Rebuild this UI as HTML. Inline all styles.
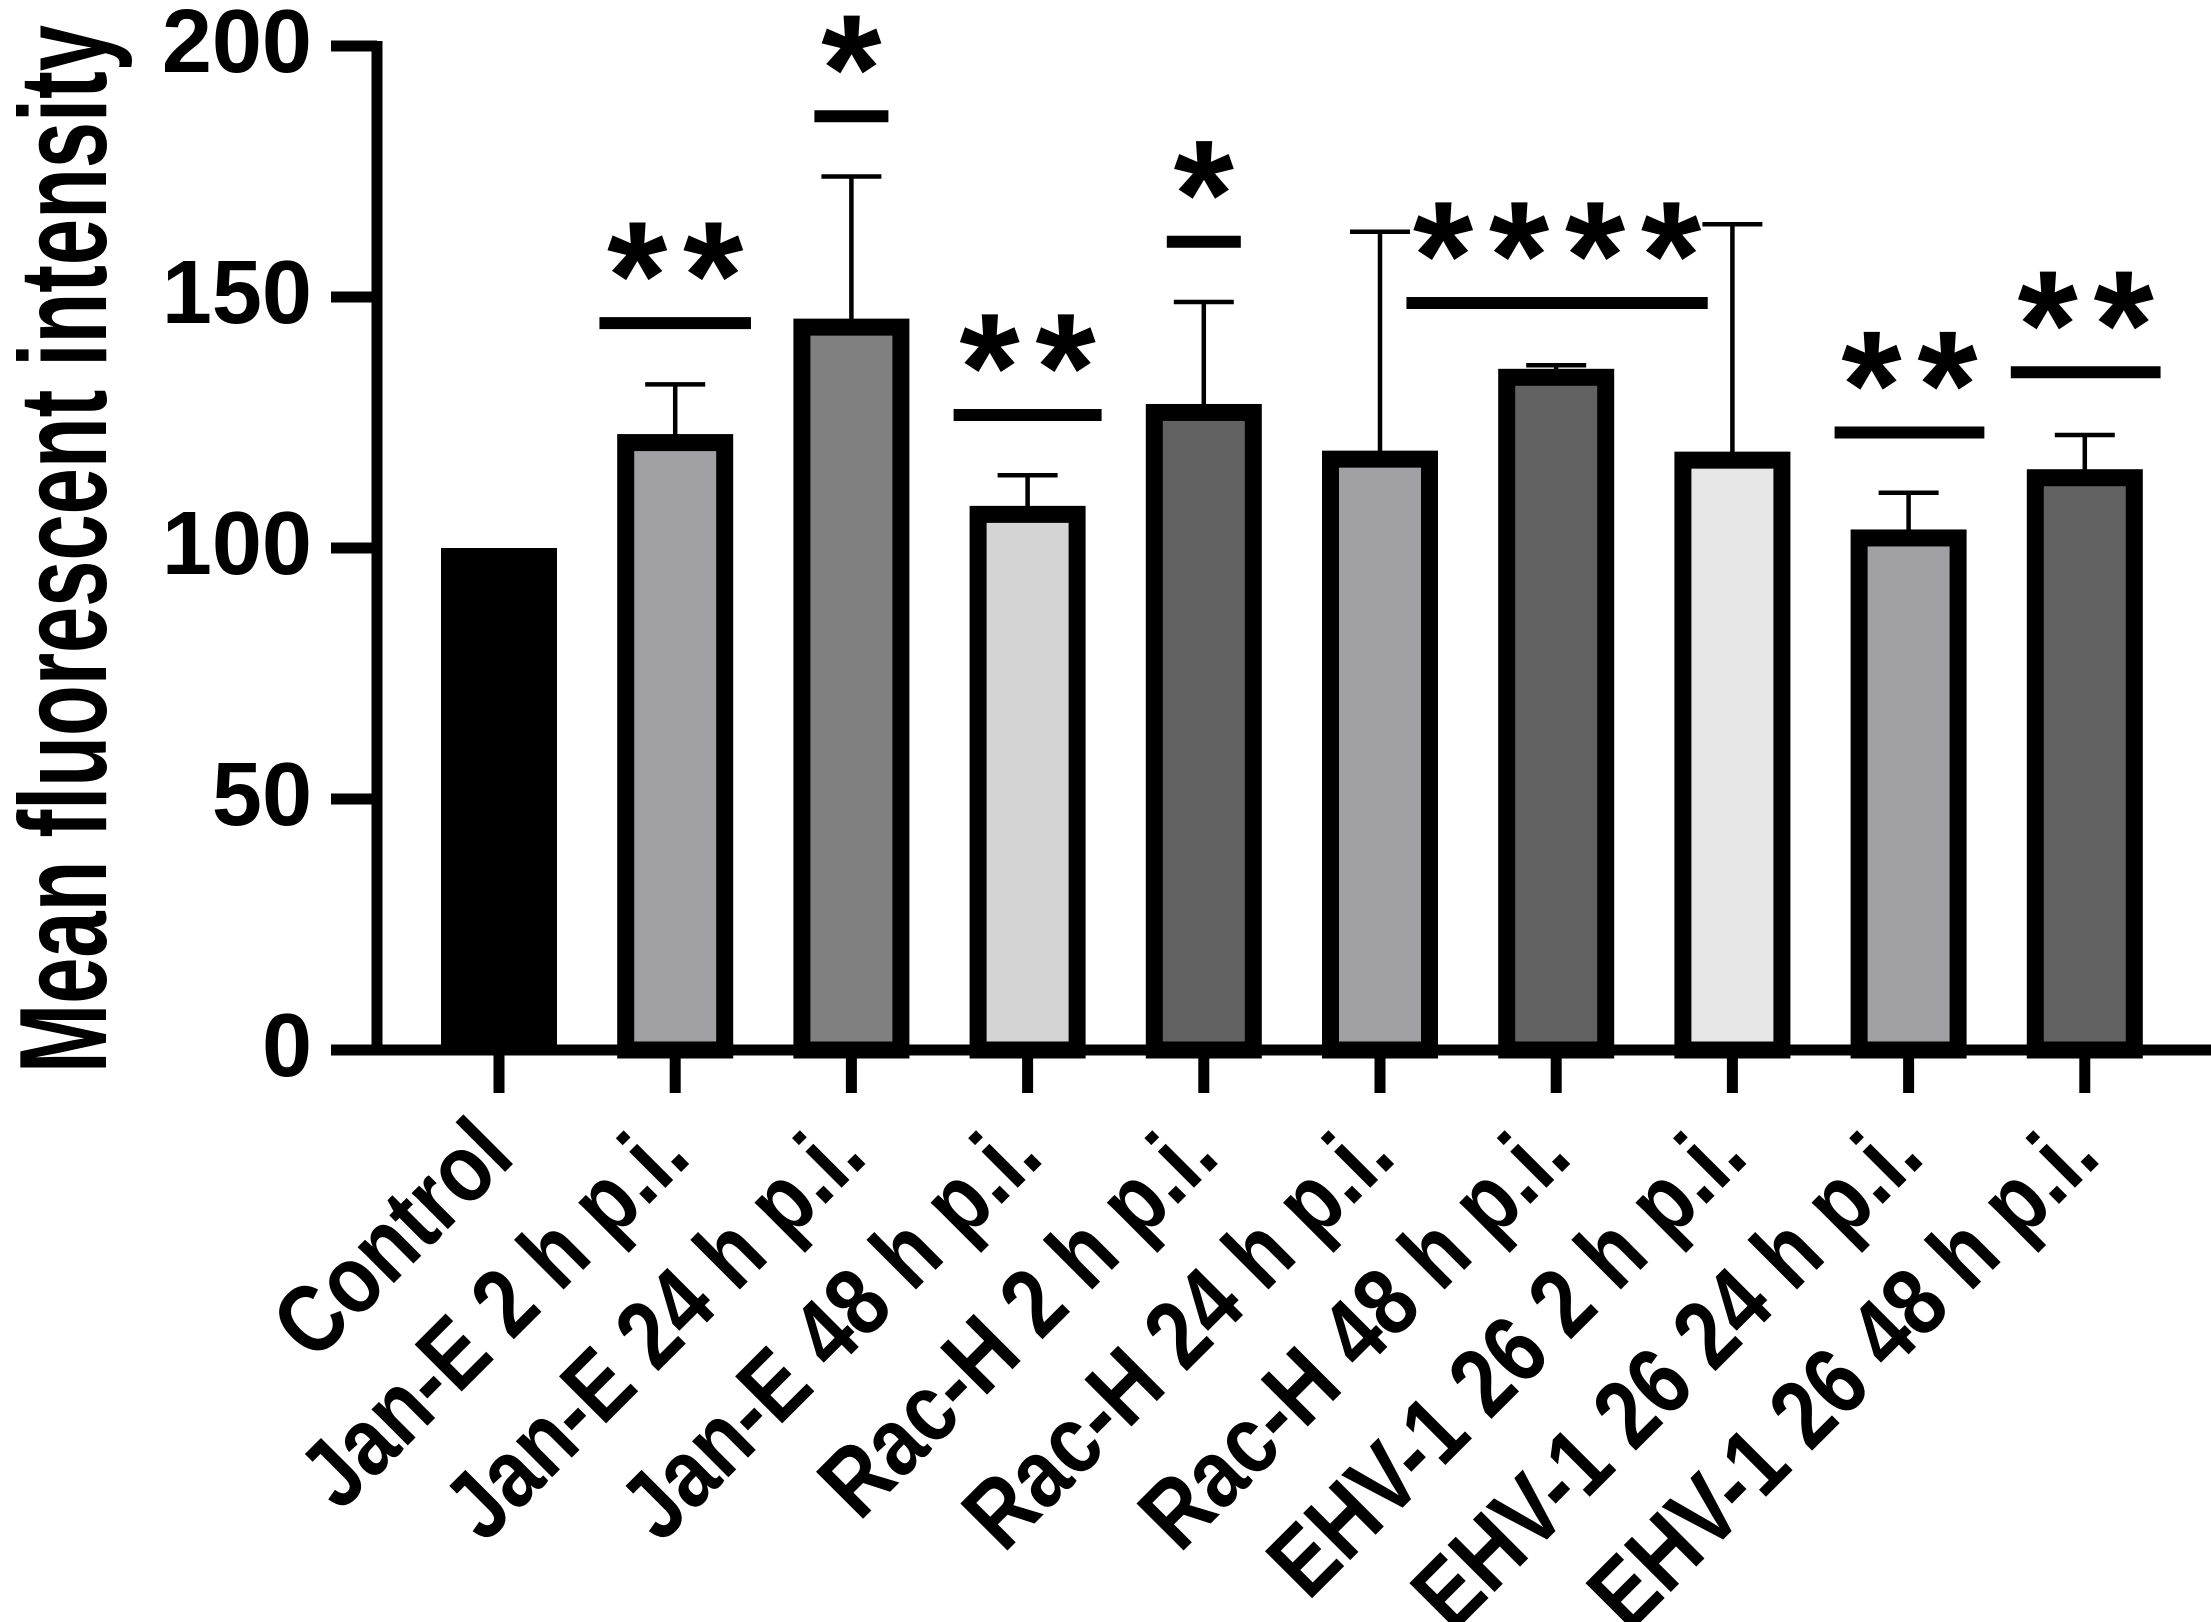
<!DOCTYPE html>
<html><head><meta charset="utf-8">
<style>
html,body{margin:0;padding:0;background:#fff;overflow:hidden;}
svg{display:block;}
text{font-family:"Liberation Sans",Arial,sans-serif;font-weight:bold;fill:#000;}
</style></head>
<body>
<svg id="chart" width="2211" height="1622" viewBox="0 0 2211 1622" xmlns="http://www.w3.org/2000/svg">
<text transform="translate(106,549) rotate(-90)" text-anchor="middle" font-size="124" textLength="1048" lengthAdjust="spacingAndGlyphs">Mean fluorescent intensity</text>
<g id="plot"></g>
</svg>
<script>
const categories = ["Control","Jan-E 2 h p.i.","Jan-E 24 h p.i.","Jan-E 48 h p.i.","Rac-H 2 h p.i.","Rac-H 24 h p.i.","Rac-H 48 h p.i.","EHV-1 26 2 h p.i.","EHV-1 26 24 h p.i.","EHV-1 26 48 h p.i."];
const means = [100,121,144,106.7,127,117.7,134,117.5,102,114];
const errTops = [100,132.6,174,114.5,149,163,136.4,164.5,111,122.5];
const fills = ["#000000","#a1a0a5","#808080","#d4d4d4","#626262","#a1a0a5","#626262","#e6e6e6","#a1a0a5","#626262"];
const yTicks = [0,50,100,150,200];
const sigStart = [0.57,1.79,2.58,3.79,5.15,7.58,8.58];
const sigEnd = [1.43,2.21,3.42,4.21,6.86,8.43,9.43];
const sigLevel = [144.8,186,126.5,161,148.8,123,135];
const sigLabel = ["**","*","**","*","****","**","**"];

const NS = "http://www.w3.org/2000/svg";
const plot = document.getElementById('plot');
const x0 = 499, step = 176.2;
const yZero = 1050, yPer = 5.02;
const xScale = i => x0 + i*step;
const yScale = v => yZero - v*yPer;
function mk(tag, attrs){ const e=document.createElementNS(NS,tag); for(const k in attrs) e.setAttribute(k,attrs[k]); plot.appendChild(e); return e; }

let el = mk('line',{x1:377,y1:41,x2:377,y2:1055,stroke:'#000','stroke-width':11});


yTicks.forEach(t=>{
  const y=yScale(t);
  let tk = mk('line',{x1:331,y1:y,x2:377,y2:y,stroke:'#000','stroke-width':11});
  
  
  let lb = mk('text',{x:312,y:y+26,'text-anchor':'end','font-size':90});
  lb.textContent = t;
  
  
});

categories.forEach((c,i)=>{
  const cx=xScale(i);
  if(i===0){
    let r = mk('rect',{x:cx-58,y:yScale(means[i]),width:116,height:yZero-yScale(means[i]),fill:fills[i]});
    
    
  } else {
    let eb = mk('line',{x1:cx,y1:yScale(means[i]),x2:cx,y2:yScale(errTops[i]),stroke:'#000','stroke-width':4.5});
    
    
    let cap = mk('line',{x1:cx-30,y1:yScale(errTops[i]),x2:cx+30,y2:yScale(errTops[i]),stroke:'#000','stroke-width':4.5});
    
    
    let r = mk('rect',{x:cx-49.5,y:yScale(means[i]),width:99,height:yZero-yScale(means[i]),fill:fills[i],stroke:'#000','stroke-width':17});
    
    
  }
  let tk = mk('line',{x1:cx,y1:1050,x2:cx,y2:1093,stroke:'#000','stroke-width':11});
  
  
  let lb = mk('text',{transform:`translate(${cx+18},1160) rotate(-45) scale(0.92,1.1)`,'text-anchor':'end','font-size':88});
  lb.textContent = c;
  
  
});

el = mk('line',{x1:372,y1:1050,x2:2211,y2:1050,stroke:'#000','stroke-width':11});



sigLabel.forEach((s,k)=>{
  const xa=xScale(sigStart[k]), xb=xScale(sigEnd[k]), y=yScale(sigLevel[k]);
  let ln = mk('line',{x1:xa,y1:y,x2:xb,y2:y,stroke:'#000','stroke-width':12});
  
  
  const mid=(xa+xb)/2, n=s.length;
  for(let j=0;j<n;j++){
    const sx = mid + (j-(n-1)/2)*76;
    let st = mk('text',{x:sx,y:y-78+84,'text-anchor':'middle','font-size':155});
    st.textContent='*';
    
    
  }
});
</script>
</body></html>
